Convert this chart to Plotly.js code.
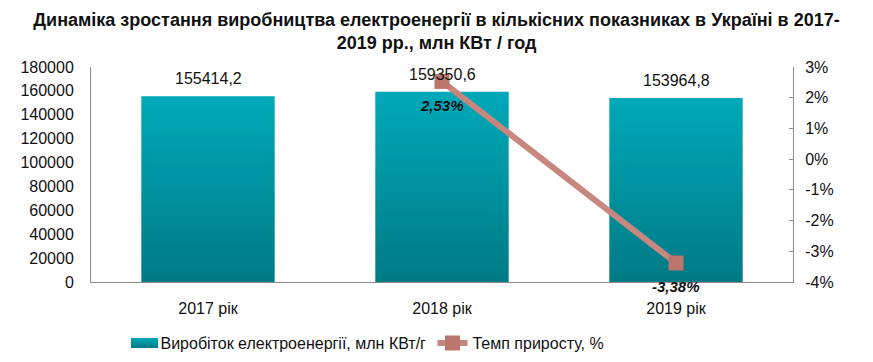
<!DOCTYPE html>
<html>
<head>
<meta charset="utf-8">
<script src="https://cdn.plot.ly/plotly-3.0.1.min.js"></script>
<style>
html,body{margin:0;padding:0;background:#fff;}
#chart{width:873px;height:362px;}
</style>
</head>
<body>
<div id="chart"></div>
<script>
const categories = ['2017 рік', '2018 рік', '2019 рік'];
const production = [155414.2, 159350.6, 153964.8];
const growthCategories = ['2018 рік', '2019 рік'];
const growthRate = [2.53, -3.38];
const leftTicks = [0, 20000, 40000, 60000, 80000, 100000, 120000, 140000, 160000, 180000];
const rightTicks = [-4, -3, -2, -1, 0, 1, 2, 3];

const fmtNum = v => v.toFixed(1).replace('.', ',');
const fmtPct = v => v.toFixed(2).replace('.', ',') + '%';

const FONT = 'Liberation Sans, Arial, sans-serif';

const barTrace = {
  type: 'bar',
  name: 'Виробіток електроенергії, млн КВт/г',
  x: categories,
  y: production,
  marker: {color: '#0092a0', line: {width: 0}},
  width: 0.57,
  hoverinfo: 'none'
};

const lineTrace = {
  type: 'scatter',
  mode: 'lines+markers',
  name: 'Темп приросту, %',
  x: growthCategories,
  y: growthRate,
  yaxis: 'y2',
  line: {color: '#c8877e', width: 6},
  marker: {symbol: 'square', size: 15, color: '#bb766d', line: {width: 0}},
  cliponaxis: false,
  hoverinfo: 'none'
};

const annotations = [];
categories.forEach((c, i) => {
  annotations.push({
    x: c, y: production[i], xref: 'x', yref: 'y',
    text: fmtNum(production[i]), showarrow: false,
    yanchor: 'bottom', yshift: 7,
    font: {family: FONT, size: 16, color: '#111'}
  });
});
growthCategories.forEach((c, i) => {
  annotations.push({
    x: c, y: growthRate[i], xref: 'x', yref: 'y2',
    text: '<b><i>' + fmtPct(growthRate[i]) + '</i></b>', showarrow: false,
    yanchor: 'middle', yshift: -24,
    font: {family: FONT, size: 15, color: '#111'}
  });
});

const layout = {
  width: 873, height: 362,
  margin: {l: 91, r: 80, t: 67, b: 80},
  paper_bgcolor: '#fff', plot_bgcolor: '#fff',
  font: {family: FONT, size: 16, color: '#111'},
  title: {
    text: '<b>Динаміка зростання виробництва електроенергії в кількісних показниках в Україні в 2017-<br>2019 рр., млн КВт / год</b>',
    font: {family: 'Liberation Sans Narrow, Arial Narrow, Liberation Sans, sans-serif', size: 18, color: '#111'},
    x: 0.5, xanchor: 'center', yref: 'container', y: 0.928, yanchor: 'middle'
  },
  xaxis: {
    type: 'category',
    showline: true, linecolor: '#8c8c8c', linewidth: 1,
    ticks: '', showgrid: false, zeroline: false,
    tickfont: {family: FONT, size: 16, color: '#111'},
    ticklabelstandoff: 12
  },
  yaxis: {
    range: [0, 180000], tickmode: 'array', tickvals: leftTicks,
    ticktext: leftTicks.map(v => String(v)),
    showline: true, linecolor: '#8c8c8c', linewidth: 1,
    ticks: '', showgrid: false, zeroline: false,
    tickfont: {family: FONT, size: 16, color: '#111'},
    ticklabelstandoff: 13
  },
  yaxis2: {
    overlaying: 'y', side: 'right',
    range: [-4, 3], tickmode: 'array', tickvals: rightTicks,
    ticktext: rightTicks.map(v => v + '%'),
    showline: true, linecolor: '#8c8c8c', linewidth: 1,
    ticks: 'inside', ticklen: 4, tickcolor: '#8c8c8c',
    showgrid: false, zeroline: false,
    tickfont: {family: FONT, size: 16, color: '#111'},
    ticklabelstandoff: 8
  },
  showlegend: true,
  legend: {
    orientation: 'h', x: 0.042, xanchor: 'left',
    yref: 'container', y: 0.052, yanchor: 'middle',
    font: {family: FONT, size: 16, color: '#111'},
    itemwidth: 30, traceorder: 'normal', entrywidth: 267
  },
  annotations: annotations,
  bargap: 0.43
};

function decorate(gd) {
  const svg = gd.querySelector('.main-svg');
  const ns = 'http://www.w3.org/2000/svg';
  const defs = svg.querySelector('defs');
  if (!document.getElementById('barGrad')) {
    const grad = document.createElementNS(ns, 'linearGradient');
    grad.setAttribute('id', 'barGrad');
    grad.setAttribute('x1', '0'); grad.setAttribute('y1', '0');
    grad.setAttribute('x2', '0'); grad.setAttribute('y2', '1');
    [['0', '#00a9b9'], ['1', '#007a85']].forEach(([o, c]) => {
      const s = document.createElementNS(ns, 'stop');
      s.setAttribute('offset', o); s.setAttribute('stop-color', c);
      grad.appendChild(s);
    });
    defs.appendChild(grad);
  }
  gd.querySelectorAll('.barlayer .point path').forEach(p => { p.style.fill = 'url(#barGrad)'; });
  gd.querySelectorAll('.legendpoints path').forEach(p => {
    const cls = p.getAttribute('class') || '';
    const d = p.getAttribute('d') || '';
    if (cls.indexOf('legendbar') >= 0 || cls.indexOf('legendundefined') >= 0 || d === 'M6,6H-6V-6H6Z') {
      p.setAttribute('d', 'M17.5,5H-9.5V-5H17.5Z');
      p.style.fill = 'url(#barGrad)';
    }
  });
}

Plotly.newPlot('chart', [barTrace, lineTrace], layout, {displayModeBar: false, staticPlot: true}).then(gd => {
  decorate(gd);
  setTimeout(() => decorate(gd), 50);
});
</script>
</body>
</html>
